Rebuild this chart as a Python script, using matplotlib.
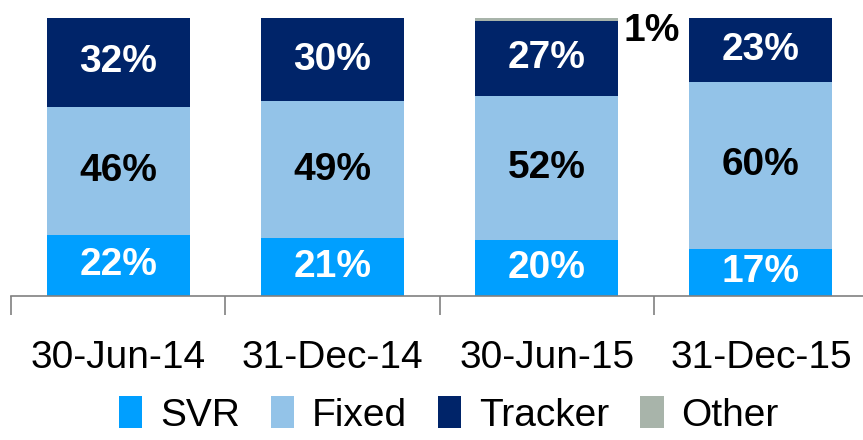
import numpy as np
import matplotlib.pyplot as plt
from matplotlib.patches import Patch

# ----------------------------------------------------------
# DATA
# ----------------------------------------------------------
categories = ["30-Jun-14", "31-Dec-14", "30-Jun-15", "31-Dec-15"]
svr = [22, 21, 20, 17]
fixed = [46, 49, 52, 60]
tracker = [32, 30, 27, 23]
other = [0, 0, 1, 0]

series = [("SVR", svr, "#009FFF", "white"),
          ("Fixed", fixed, "#93C3E8", "black"),
          ("Tracker", tracker, "#002469", "white"),
          ("Other", other, "#A8B4AA", "black")]

plt.rcParams['font.family'] = ["Liberation Sans", "DejaVu Sans"]

# ----------------------------------------------------------
# FIGURE
# ----------------------------------------------------------
fig = plt.figure(figsize=(8.63, 4.40), dpi=100)
ax = fig.add_axes([11 / 863, (440 - 296) / 440, (868 - 11) / 863, 278 / 440])

x = np.arange(len(categories))
bottom = np.zeros(len(categories))
for name, vals, color, tcolor in series:
    vals = np.array(vals, dtype=float)
    ax.bar(x, vals, bottom=bottom, width=0.667, color=color, label=name)
    for xi, b, v in zip(x, bottom, vals):
        if v >= 5:
            ax.text(xi, b + v / 2, f"{int(v)}%", ha='center', va='center',
                    color=tcolor, fontsize=28, fontweight='bold')
    bottom += vals

# small "Other" slice label, placed beside the bar
ax.text(2.49, 95.5, f"{other[2]}%", ha='center', va='center',
        color='black', fontsize=28, fontweight='bold')

ax.set_xlim(-0.5, 3.5)
ax.set_ylim(0, 100)
ax.set_yticks([])
for s in ['top', 'right', 'left']:
    ax.spines[s].set_visible(False)
ax.spines['bottom'].set_color('#808080')
ax.spines['bottom'].set_linewidth(1.2)

# boundary ticks between categories
ax.set_xticks(np.arange(-0.5, 4.0, 1.0))
ax.set_xticklabels([])
ax.tick_params(axis='x', length=14, width=1.2, color='#808080', direction='out')
ax.set_xticks(x, minor=True)
ax.set_xticklabels(categories, minor=True, fontsize=28)
ax.tick_params(axis='x', which='minor', length=0, pad=32)

handles = [Patch(facecolor=c, label=n) for n, _, c, _ in series]
fig.legend(handles=handles, loc='lower center', bbox_to_anchor=(0.52, -0.065),
           ncol=4, frameon=False, fontsize=28, handlelength=0.6,
           handleheight=0.9, handletextpad=0.45, columnspacing=0.8)

fig.savefig("out.png", dpi=100)
